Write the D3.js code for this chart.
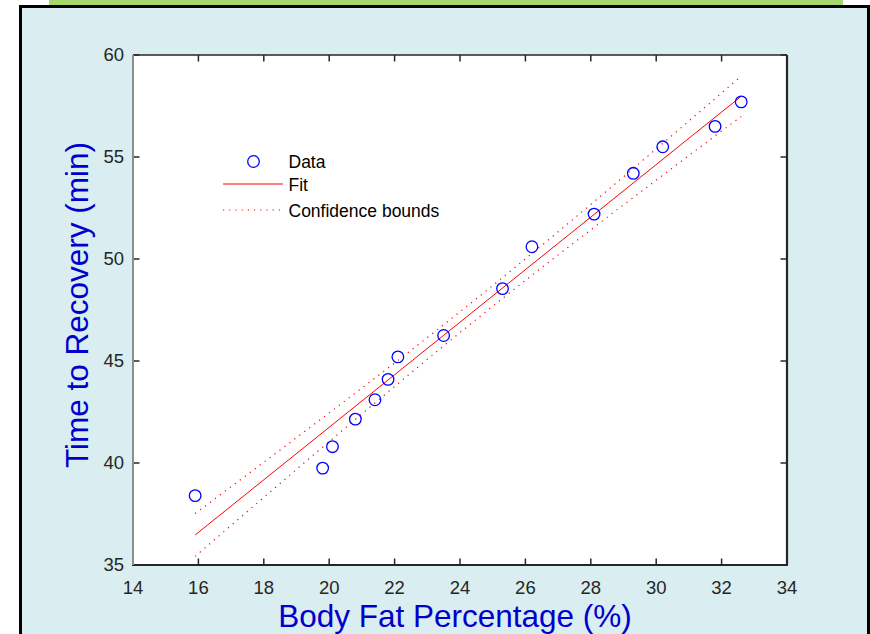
<!DOCTYPE html>
<html>
<head>
<meta charset="utf-8">
<script src="https://cdn.jsdelivr.net/npm/d3@7"></script>
<style>
  body { margin: 0; background: #fff; }
  svg { display: block; font-family: "Liberation Sans", Arial, sans-serif; }
</style>
</head>
<body>
<svg width="870" height="634"></svg>
<script>
const width = 870;
const height = 634;

// body fat % vs. time to recovery
const bodyFat = [15.9, 19.8, 20.1, 20.8, 21.4, 21.8, 22.1, 23.5, 25.3, 26.2, 28.1, 29.3, 30.2, 31.8, 32.6];
const recovery = [38.4, 39.75, 40.8, 42.15, 43.1, 44.1, 45.2, 46.25, 48.55, 50.6, 52.2, 54.2, 55.5, 56.5, 57.7];

const xTicks = [14, 16, 18, 20, 22, 24, 26, 28, 30, 32, 34];
const yTicks = [35, 40, 45, 50, 55, 60];
const legendLabels = ["Data", "Fit", "Confidence bounds"];

const tCrit = 2.1604; // t(0.975, 13)

const svg = d3.select("svg");

// figure panel
svg.append("rect").attr("x", 49).attr("y", 0).attr("width", 794).attr("height", 6).attr("fill", "#a6d76c");
svg.append("rect").attr("x", 20.5).attr("y", 6.5).attr("width", 848).attr("height", 640)
    .attr("fill", "#daedf0").attr("stroke", "#000").attr("stroke-width", 3);

const plot = { left: 133, top: 55, right: 787, bottom: 565 };

const x = d3.scaleLinear().domain([14, 34]).range([plot.left, plot.right]);
const y = d3.scaleLinear().domain([35, 60]).range([plot.bottom, plot.top]);

svg.append("rect")
    .attr("x", plot.left).attr("y", plot.top)
    .attr("width", plot.right - plot.left).attr("height", plot.bottom - plot.top)
    .attr("fill", "#fff");

// ---------------- linear fit + confidence bounds ----------------
const n = bodyFat.length;
const xbar = d3.mean(bodyFat), ybar = d3.mean(recovery);
let sxx = 0, sxy = 0;
bodyFat.forEach((v, i) => { sxx += (v - xbar) ** 2; sxy += (v - xbar) * (recovery[i] - ybar); });
const slope = sxy / sxx;
const icpt = ybar - slope * xbar;
let sse = 0;
bodyFat.forEach((v, i) => { sse += (recovery[i] - (icpt + slope * v)) ** 2; });
const s = Math.sqrt(sse / (n - 2));

const xMin = d3.min(bodyFat), xMax = d3.max(bodyFat);
const grid = d3.range(0, 101).map(k => xMin + (xMax - xMin) * k / 100);
const half = v => tCrit * s * Math.sqrt(1 / n + (v - xbar) ** 2 / sxx);

const line = d3.line().x(d => x(d[0])).y(d => y(d[1]));

const g = svg.append("g");

g.append("path")
    .datum(grid.map(v => [v, icpt + slope * v + half(v)]))
    .attr("d", line).attr("fill", "none").attr("stroke", "#ff0000")
    .attr("stroke-width", 1.2).attr("stroke-dasharray", "1.2,5");
g.append("path")
    .datum(grid.map(v => [v, icpt + slope * v - half(v)]))
    .attr("d", line).attr("fill", "none").attr("stroke", "#ff0000")
    .attr("stroke-width", 1.2).attr("stroke-dasharray", "1.2,5");
g.append("path")
    .datum([[xMin, icpt + slope * xMin], [xMax, icpt + slope * xMax]])
    .attr("d", line).attr("fill", "none").attr("stroke", "#ff0000").attr("stroke-width", 1);

g.selectAll("circle.pt")
    .data(bodyFat.map((v, i) => [v, recovery[i]]))
    .enter().append("circle")
    .attr("class", "pt")
    .attr("cx", d => x(d[0])).attr("cy", d => y(d[1]))
    .attr("r", 5.8)
    .attr("fill", "none").attr("stroke", "#0000ff").attr("stroke-width", 1.3);

// ---------------- axes box ----------------
const axisColor = "#262626";
const tickLen = 6.5;

// ticks (inward, all four sides)
xTicks.forEach(t => {
    svg.append("line").attr("x1", x(t)).attr("x2", x(t)).attr("y1", plot.bottom).attr("y2", plot.bottom - tickLen)
        .attr("stroke", axisColor).attr("stroke-width", 1.5);
    svg.append("line").attr("x1", x(t)).attr("x2", x(t)).attr("y1", plot.top).attr("y2", plot.top + tickLen)
        .attr("stroke", axisColor).attr("stroke-width", 1.5);
});
yTicks.forEach(t => {
    svg.append("line").attr("x1", plot.left).attr("x2", plot.left + tickLen).attr("y1", y(t)).attr("y2", y(t))
        .attr("stroke", axisColor).attr("stroke-width", 1.5);
    svg.append("line").attr("x1", plot.right).attr("x2", plot.right - tickLen).attr("y1", y(t)).attr("y2", y(t))
        .attr("stroke", axisColor).attr("stroke-width", 1.5);
});

svg.append("line").attr("x1", plot.left).attr("x2", plot.right).attr("y1", plot.top).attr("y2", plot.top)
    .attr("stroke", axisColor).attr("stroke-width", 1.5);
svg.append("line").attr("x1", plot.left - 1).attr("x2", plot.right + 1).attr("y1", plot.bottom).attr("y2", plot.bottom)
    .attr("stroke", axisColor).attr("stroke-width", 2);
svg.append("line").attr("x1", plot.right).attr("x2", plot.right).attr("y1", plot.top).attr("y2", plot.bottom)
    .attr("stroke", axisColor).attr("stroke-width", 2.2);
svg.append("line").attr("x1", plot.left).attr("x2", plot.left).attr("y1", plot.top).attr("y2", plot.bottom)
    .attr("stroke", "#8c8c8c").attr("stroke-width", 2);

// tick labels
svg.append("g").selectAll("text").data(xTicks).enter().append("text")
    .attr("x", d => x(d)).attr("y", 594)
    .attr("text-anchor", "middle").attr("font-size", 18.5).attr("fill", axisColor)
    .text(d => d);
svg.append("g").selectAll("text").data(yTicks).enter().append("text")
    .attr("x", plot.left - 9).attr("y", d => y(d)).attr("dy", "0.35em")
    .attr("text-anchor", "end").attr("font-size", 18.5).attr("fill", axisColor)
    .text(d => d);

// axis titles
svg.append("text")
    .attr("x", 455).attr("y", 627)
    .attr("text-anchor", "middle").attr("font-size", 31.5).attr("fill", "#0000cc")
    .text("Body Fat Percentage (%)");
svg.append("text")
    .attr("transform", "translate(88,305) rotate(-90)")
    .attr("text-anchor", "middle").attr("font-size", 31.5).attr("fill", "#0000cc")
    .text("Time to Recovery (min)");

// ---------------- legend ----------------
const leg = svg.append("g");
const legY = [161.5, 184, 210];
leg.append("circle").attr("cx", 253.5).attr("cy", legY[0]).attr("r", 5.8)
    .attr("fill", "none").attr("stroke", "#0000ff").attr("stroke-width", 1.3);
leg.append("line").attr("x1", 223).attr("x2", 283).attr("y1", legY[1]).attr("y2", legY[1])
    .attr("stroke", "#ff0000").attr("stroke-width", 1);
leg.append("line").attr("x1", 223).attr("x2", 283).attr("y1", legY[2]).attr("y2", legY[2])
    .attr("stroke", "#ff0000").attr("stroke-width", 1.2).attr("stroke-dasharray", "1.2,5");
leg.selectAll("text").data(legendLabels).enter().append("text")
    .attr("x", 288.5).attr("y", (d, i) => legY[i] + 6.5)
    .attr("font-size", 17.5).attr("fill", "#000")
    .text(d => d);
</script>
</body>
</html>
